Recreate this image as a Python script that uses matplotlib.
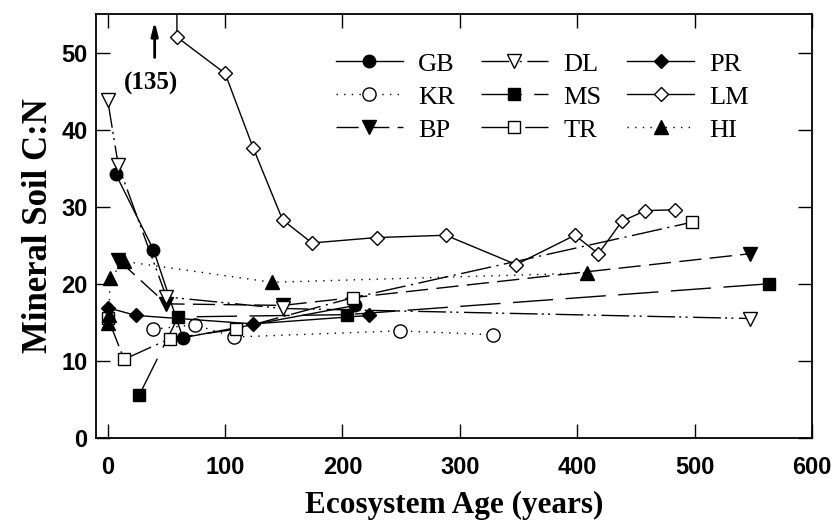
import matplotlib
matplotlib.use('Agg')
import matplotlib.pyplot as plt

plt.rcParams['lines.scale_dashes'] = False

# soil C:N along each chronosequence (age in years)
gb_x = [7, 39, 64, 211]
gb_y = [34.2, 24.4, 13.0, 17.2]
kr_x = [39, 74, 108, 249, 328]
kr_y = [14.1, 14.7, 13.1, 13.9, 13.4]
bp_x = [9, 50, 149, 547]
bp_y = [23.1, 17.4, 17.2, 23.9]
dl_x = [0, 9, 50, 149, 547]
dl_y = [43.8, 35.4, 18.3, 16.8, 15.5]
ms_x = [27, 60, 204, 563]
ms_y = [5.6, 15.7, 16.0, 20.0]
tr_x = [0, 14, 53, 109, 209, 498]
tr_y = [15.6, 10.2, 12.9, 14.1, 18.2, 28.0]
pr_x = [0, 24, 124, 223]
pr_y = [16.9, 15.9, 14.8, 15.9]
lm_x = [58, 59, 100, 124, 149, 174, 229, 288, 348, 398, 418, 438, 458, 483]
lm_y = [135, 52.0, 47.3, 37.6, 28.3, 25.3, 26.0, 26.3, 22.5, 26.3, 23.9, 28.1, 29.5, 29.6]
hi_x = [0, 1, 2, 14, 140, 408]
hi_y = [14.9, 15.9, 20.7, 22.9, 20.2, 21.4]

fig = plt.figure(figsize=(8.33, 5.26), dpi=100)
ax = fig.add_axes([0.1152, 0.1673, 0.8596, 0.8061])

lw = 1.0
mew = 1.0
dot = (1.0, 4.5)

# plotted in legend order (column-wise fill, 3 columns)
ax.plot(gb_x, gb_y, '-', color='black', lw=lw, marker='o', ms=9,
        mfc='black', mec='black', label='GB')
ax.plot(kr_x, kr_y, color='black', lw=lw, dashes=dot, marker='o', ms=9.5,
        mfc='white', mec='black', mew=mew, label='KR')
ax.plot(bp_x, bp_y, color='black', lw=lw, dashes=(16, 6), marker='v', ms=9.5,
        mfc='black', mec='black', label='BP')
ax.plot(dl_x, dl_y, color='black', lw=lw, dashes=(20, 3, 1.5, 3, 1.5, 4),
        marker='v', ms=9.5, mfc='white', mec='black', mew=mew, label='DL')
ax.plot(ms_x, ms_y, color='black', lw=lw, dashes=(29, 9), marker='s', ms=8,
        mfc='black', mec='black', label='MS')
ax.plot(tr_x, tr_y, color='black', lw=lw, dashes=(22, 4, 1.5, 4), marker='s',
        ms=8, mfc='white', mec='black', mew=mew, label='TR')
ax.plot(pr_x, pr_y, '-', color='black', lw=lw, marker='D', ms=7.5,
        mfc='black', mec='black', label='PR')
ax.plot(lm_x, lm_y, '-', color='black', lw=lw, marker='D', ms=7.5,
        mfc='white', mec='black', mew=mew, label='LM')
ax.plot(hi_x, hi_y, color='black', lw=lw, dashes=dot, marker='^', ms=9.5,
        mfc='black', mec='black', label='HI')

ax.set_xlim(-10, 600)
ax.set_ylim(0, 55)
ax.set_xticks(range(0, 601, 100))
ax.set_yticks(range(0, 51, 10))

tick_font = {'family': ['Liberation Sans Narrow', 'Liberation Sans'],
             'weight': 'bold', 'size': 17}
ax.set_xticklabels([str(v) for v in range(0, 601, 100)], fontdict=tick_font)
ax.set_yticklabels([str(v) for v in range(0, 51, 10)], fontdict=tick_font)
ax.tick_params(direction='in', length=10, width=1, top=True, right=True)
ax.tick_params(axis='x', pad=13)
ax.tick_params(axis='y', pad=6)
for s in ax.spines.values():
    s.set_linewidth(1.3)

ax.set_xlabel('Ecosystem Age (years)', family='Liberation Serif',
              weight='bold', size=22.5)
ax.set_ylabel('Mineral Soil C:N', family='Liberation Serif',
              weight='bold', size=25)
ax.xaxis.set_label_coords(0.5, -0.125)
ax.yaxis.set_label_coords(-0.057, 0.5)

# off-scale LM value
ax.annotate('', xy=(40, 54.4), xytext=(40, 49),
            arrowprops=dict(arrowstyle='-|>,head_length=0.8,head_width=0.2',
                            color='black', lw=2))
ax.text(37, 46.0, '(135)', ha='center', va='center',
        family='Liberation Serif', weight='bold', size=18)

ax.legend(loc='upper left', bbox_to_anchor=(0.335, 0.91), ncol=3,
          frameon=False, numpoints=1, borderaxespad=0, borderpad=0,
          handlelength=2.55, handletextpad=0.57, columnspacing=0.98,
          labelspacing=0.36,
          prop={'family': 'Liberation Serif', 'size': 19})

fig.savefig('out.png', dpi=100)
